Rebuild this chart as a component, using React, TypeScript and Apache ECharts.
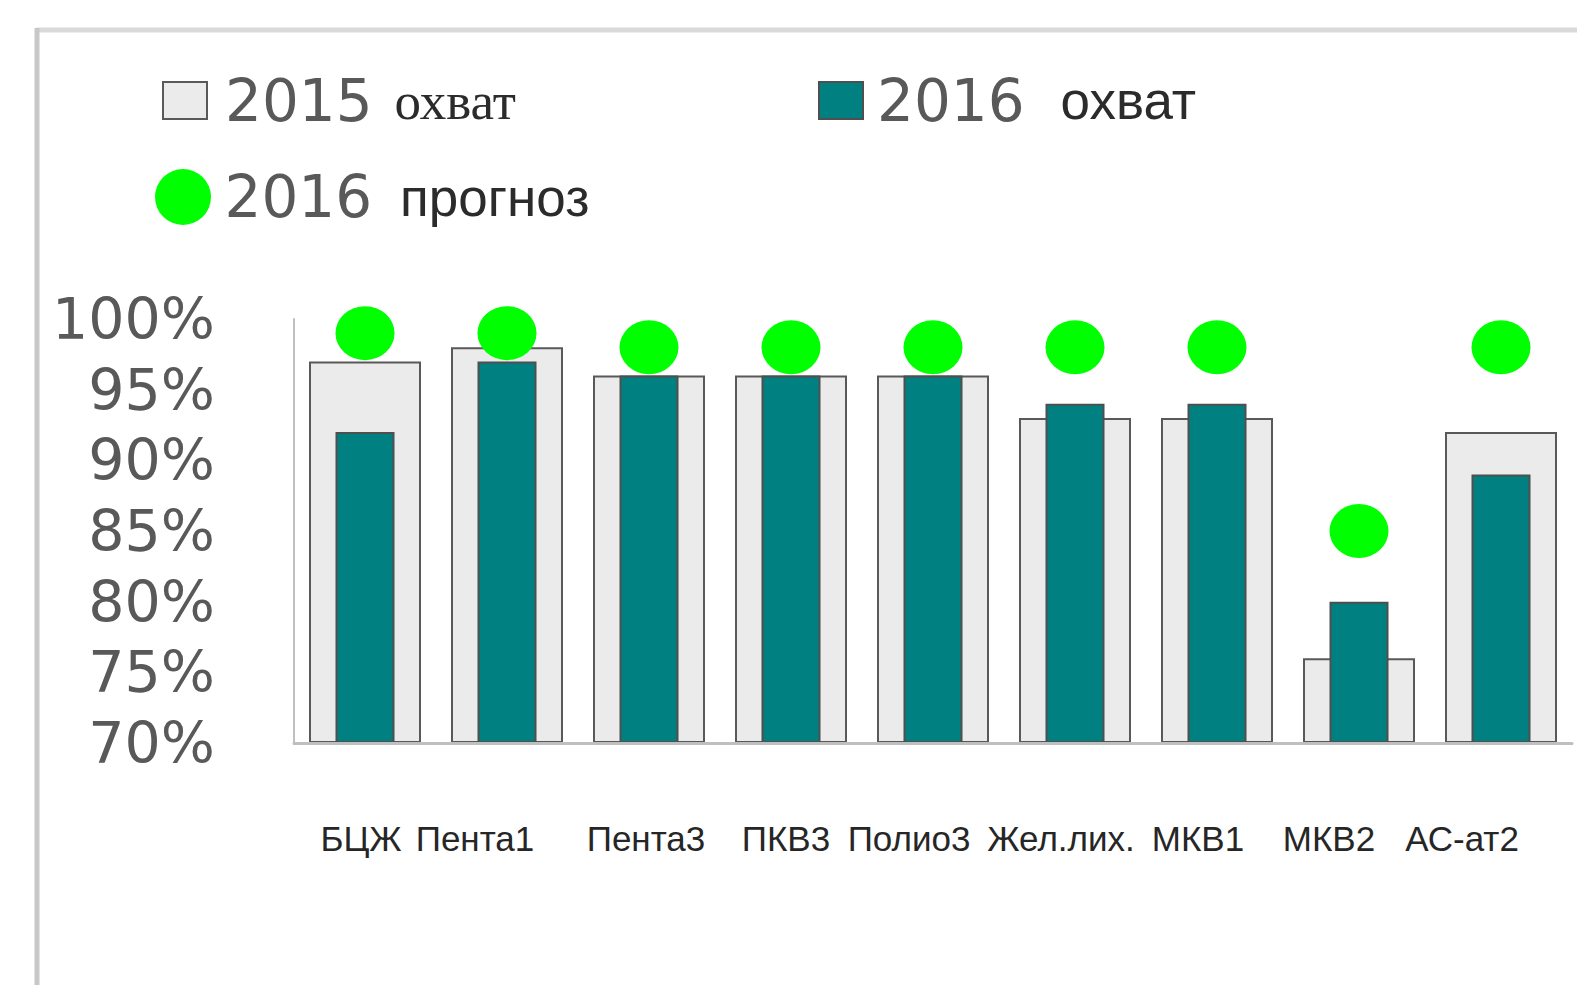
import React, { useEffect, useRef } from "react";
import * as echarts from "echarts";

const categories = ["БЦЖ", "Пента1", "Пента3", "ПКВ3", "Полио3", "Жел.лих.", "МКВ1", "МКВ2", "АС-ат2"];
const coverage2015 = [97, 98, 96, 96, 96, 93, 93, 76, 92];
const coverage2016 = [92, 97, 96, 96, 96, 94, 94, 80, 89];
const forecast2016 = [99, 99, 98, 98, 98, 98, 98, 85, 98];
const seriesNames = ["2015 охват", "2016 охват", "2016 прогноз"];
const yMin = 70;
const yMax = 100;
const yStep = 5;

// horizontal nudge (px, to the left) of each category label, as in the reference
const labelNudge = [4, 32, 3, 5, 24, 14, 19, 30, 39];

const ELLIPSE = "path://M0,50 A50,50 0 1,1 100,50 A50,50 0 1,1 0,50 Z";

export default function App() {
  const ref = useRef<HTMLDivElement>(null);
  useEffect(() => {
    if (!ref.current) return;
    const chart = echarts.init(ref.current, undefined, { renderer: "svg" });
    const numFont = "DejaVu Sans";
    const yearStyle = { fontFamily: numFont, fontSize: 58, color: "#595959", lineHeight: 60 };
    const labelRich: any = {};
    labelNudge.forEach((n, i) => {
      labelRich["p" + i] = {
        fontFamily: "Liberation Sans",
        fontSize: 35,
        color: "#262626",
        padding: [0, 2 * n, 0, 0],
      };
    });
    const option: any = {
      animation: false,
      backgroundColor: "#ffffff",
      graphic: [
        { type: "line", shape: { x1: 36, y1: 30, x2: 1577, y2: 30 }, style: { stroke: "#d9d9d9", lineWidth: 5 } },
        { type: "line", shape: { x1: 37, y1: 28, x2: 37, y2: 985 }, style: { stroke: "#c8c8c8", lineWidth: 5 } },
      ],
      legend: [
        {
          data: [seriesNames[0]],
          left: 162,
          top: 71.5,
          padding: 0,
          icon: "rect",
          itemWidth: 44,
          itemHeight: 37,
          formatter: () => "{a|2015}{b|охват}",
          textStyle: {
            rich: {
              a: { ...yearStyle, padding: [0, 0, 0, 13] },
              b: { fontFamily: "Liberation Serif", fontSize: 53, color: "#2b2b2b", lineHeight: 60, padding: [0, 0, 0, 22] },
            },
          },
        },
        {
          data: [seriesNames[1]],
          left: 818,
          top: 71.5,
          padding: 0,
          icon: "rect",
          itemWidth: 44,
          itemHeight: 37,
          formatter: () => "{a|2016}{b|охват}",
          textStyle: {
            rich: {
              a: { ...yearStyle, padding: [0, 0, 0, 9] },
              b: { fontFamily: "Liberation Sans", fontSize: 53, color: "#2b2b2b", lineHeight: 60, padding: [0, 0, 0, 36] },
            },
          },
        },
        {
          data: [seriesNames[2]],
          left: 155,
          top: 168,
          padding: 0,
          icon: ELLIPSE,
          itemWidth: 59,
          itemHeight: 56,
          formatter: () => "{a|2016}{b|прогноз}",
          textStyle: {
            rich: {
              a: { ...yearStyle, padding: [0, 0, 0, 7] },
              b: { fontFamily: "Liberation Sans", fontSize: 53, color: "#2b2b2b", lineHeight: 60, padding: [0, 0, 0, 28] },
            },
          },
        },
      ],
      grid: { left: 294, right: 5, top: 319, bottom: 242, containLabel: false },
      xAxis: [
        {
          type: "category",
          data: categories,
          z: 5,
          axisLine: { show: true, lineStyle: { color: "#bfbfbf", width: 3 } },
          axisTick: { show: false },
          axisLabel: {
            interval: 0,
            margin: 78,
            fontFamily: "Liberation Sans",
            fontSize: 35,
            color: "#262626",
            formatter: (v: string, i: number) => "{p" + i + "|" + v + "}",
            rich: labelRich,
          },
        },
        { type: "category", data: categories, show: false },
      ],
      yAxis: {
        type: "value",
        min: yMin,
        max: yMax,
        interval: yStep,
        startValue: yMin,
        axisLine: { show: true, lineStyle: { color: "#bfbfbf", width: 2 } },
        axisTick: { show: false },
        splitLine: { show: false },
        axisLabel: {
          margin: 79,
          fontFamily: numFont,
          fontSize: 57,
          color: "#595959",
          formatter: "{value}%",
        },
      },
      series: [
        {
          name: seriesNames[0],
          type: "bar",
          xAxisIndex: 0,
          data: coverage2015,
          barWidth: 112,
          itemStyle: { color: "#ebebeb", borderColor: "#595959", borderWidth: 2 },
          z: 2,
        },
        {
          name: seriesNames[1],
          type: "bar",
          xAxisIndex: 1,
          data: coverage2016,
          barWidth: 59,
          itemStyle: { color: "#008080", borderColor: "#4f4f4f", borderWidth: 2 },
          z: 3,
        },
        {
          name: seriesNames[2],
          type: "scatter",
          xAxisIndex: 0,
          data: forecast2016,
          symbol: ELLIPSE,
          symbolSize: [59, 54],
          itemStyle: { color: "#00ff00", opacity: 1 },
          z: 4,
        },
      ],
    };
    chart.setOption(option);
    return () => chart.dispose();
  }, []);
  return (
    <div
      ref={ref}
      style={{ position: "fixed", left: 0, top: 0, width: 1577, height: 985, background: "#fff" }}
    />
  );
}
